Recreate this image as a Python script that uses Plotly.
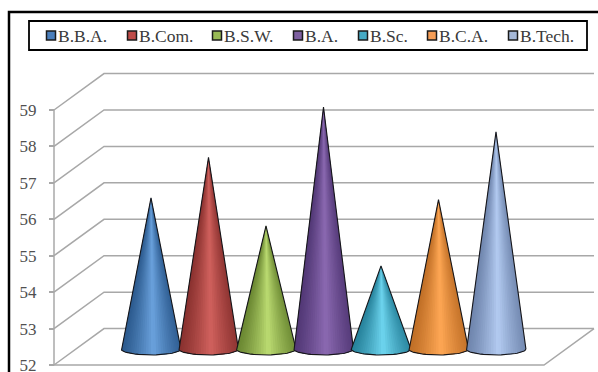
import numpy as np
import plotly.graph_objects as go

# Course averages
categories = ["B.B.A.", "B.Com.", "B.S.W.", "B.A.", "B.Sc.", "B.C.A.", "B.Tech."]
values = [56.09, 57.2, 55.32, 58.58, 54.22, 56.04, 57.9]
tick_values = [52, 53, 54, 55, 56, 57, 58, 59]

# Edge shade and highlight shade for each cone
edge_colors = ["#2c5a8e", "#8a3230", "#6a8732", "#523876", "#27839c", "#c06f27", "#6f85ad"]
mid_colors = ["#6ba3de", "#d2625e", "#bcdc72", "#8c6ab2", "#6fd6f0", "#ffa855", "#b4ccf2"]
legend_colors = ["#4a7ebb", "#be4b48", "#98b954", "#7d5fa0", "#46aac5", "#f59d56", "#a5b8d8"]

W, H = 598, 372
CAT_PX = 57.5        # horizontal pixels per category
VAL_PX = 36.43       # vertical pixels per unit
X0_PX, Y52_PX = 151.0, 365.0
AXIS_X = (54 - X0_PX) / CAT_PX
DEPTH_X = 50 / CAT_PX
DEPTH_Y = 1.0
FLOOR_END = (544 - X0_PX) / CAT_PX
R_X, R_Y = 0.52, 6 / VAL_PX
BASE_Y = 52.44
GRID = "#a8a8a8"


def frac_x(px):
    return px / W


def frac_y(px):
    return 1 - px / H


def hex_rgb(c):
    return np.array([int(c[i:i + 2], 16) for i in (1, 3, 5)], float)


def shade(edge, mid, t):
    # t runs from -1 (left silhouette) to 1 (right silhouette)
    k = np.clip(1 - abs(t - 0.08) / 1.08, 0, 1) ** 1.25
    c = hex_rgb(edge) + (hex_rgb(mid) - hex_rgb(edge)) * k
    return "rgb(%d,%d,%d)" % tuple(c)


fig = go.Figure()


def line(xs, ys, color=GRID, width=1.5):
    fig.add_trace(go.Scatter(x=xs, y=ys, mode="lines", showlegend=False, hoverinfo="skip",
                             line=dict(color=color, width=width)))


# Walls and floor
line([AXIS_X, AXIS_X], [tick_values[0], tick_values[-1]])
for v in tick_values:
    line([AXIS_X, AXIS_X + DEPTH_X, FLOOR_END + DEPTH_X],
         [v, v + DEPTH_Y, v + DEPTH_Y])
line([AXIS_X, FLOOR_END, FLOOR_END + DEPTH_X], [52, 52, 52 + DEPTH_Y])

# Cones, built from overlapping shaded slices so no seams show between them
STRIPS = 36
for i, (name, val) in enumerate(zip(categories, values)):
    apex = val + 0.5
    phi = np.linspace(np.pi, 2 * np.pi, STRIPS + 1)
    bx = i + R_X * np.cos(phi)
    by = BASE_Y + R_Y * np.sin(phi)
    for k in range(STRIPS):
        t = (np.cos(phi[k]) + np.cos(phi[k + 1])) / 2
        col = shade(edge_colors[i], mid_colors[i], t)
        end = min(k + 3, STRIPS)
        fig.add_trace(go.Scatter(x=[i, *bx[k:end + 1], i], y=[apex, *by[k:end + 1], apex],
                                 mode="lines", fill="toself", fillcolor=col, showlegend=False,
                                 hoverinfo="skip", line=dict(width=0)))
    line([i, *bx, i], [apex, *by, apex], color="#16161a", width=1.1)

# Legend swatches and labels
swatch_px = [51, 132, 217, 298, 363, 432, 513]
legend_y = (35.5 - Y52_PX) / -VAL_PX + 52
annotations = []
for i, name in enumerate(categories):
    sx = (swatch_px[i] - X0_PX) / CAT_PX
    fig.add_trace(go.Scatter(x=[sx], y=[legend_y], mode="markers", showlegend=False, hoverinfo="skip",
                             marker=dict(symbol="square", size=9, color=legend_colors[i],
                                         line=dict(color="#1a1a1a", width=1.5))))
    annotations.append(dict(x=frac_x(swatch_px[i] + 7), y=frac_y(35.5), xref="paper", yref="paper",
                            text=name, showarrow=False, xanchor="left", yanchor="middle",
                            font=dict(family="Liberation Serif", size=17.5, color="#3a3a3a"),
                            borderpad=0, borderwidth=0))

shapes = [
    dict(type="rect", xref="paper", yref="paper", x0=frac_x(9), x1=frac_x(606), y0=frac_y(12),
         y1=frac_y(380), line=dict(color="black", width=2.5)),
    dict(type="rect", xref="paper", yref="paper", x0=frac_x(29), x1=frac_x(587), y0=frac_y(21),
         y1=frac_y(50), line=dict(color="black", width=1.8)),
]

fig.update_layout(
    width=W, height=H, margin=dict(l=0, r=0, t=0, b=0, autoexpand=False),
    paper_bgcolor="white", plot_bgcolor="white", showlegend=False,
    annotations=annotations, shapes=shapes,
    xaxis=dict(visible=False, domain=[0, 1], range=[-X0_PX / CAT_PX, (W - X0_PX) / CAT_PX]),
    yaxis=dict(range=[52 - (H - Y52_PX) / VAL_PX, 52 + Y52_PX / VAL_PX], domain=[0, 1],
               anchor="free", position=frac_x(54), tickmode="array", tickvals=tick_values,
               ticks="outside", ticklen=5, tickwidth=1.5, tickcolor=GRID, showgrid=False,
               zeroline=False, showline=False, ticklabeloverflow="allow", ticklabelstandoff=9,
               automargin=False,
               tickfont=dict(family="Liberation Serif", size=17, color="#505050")),
)

fig.write_html("out.html", config=dict(displayModeBar=False))
